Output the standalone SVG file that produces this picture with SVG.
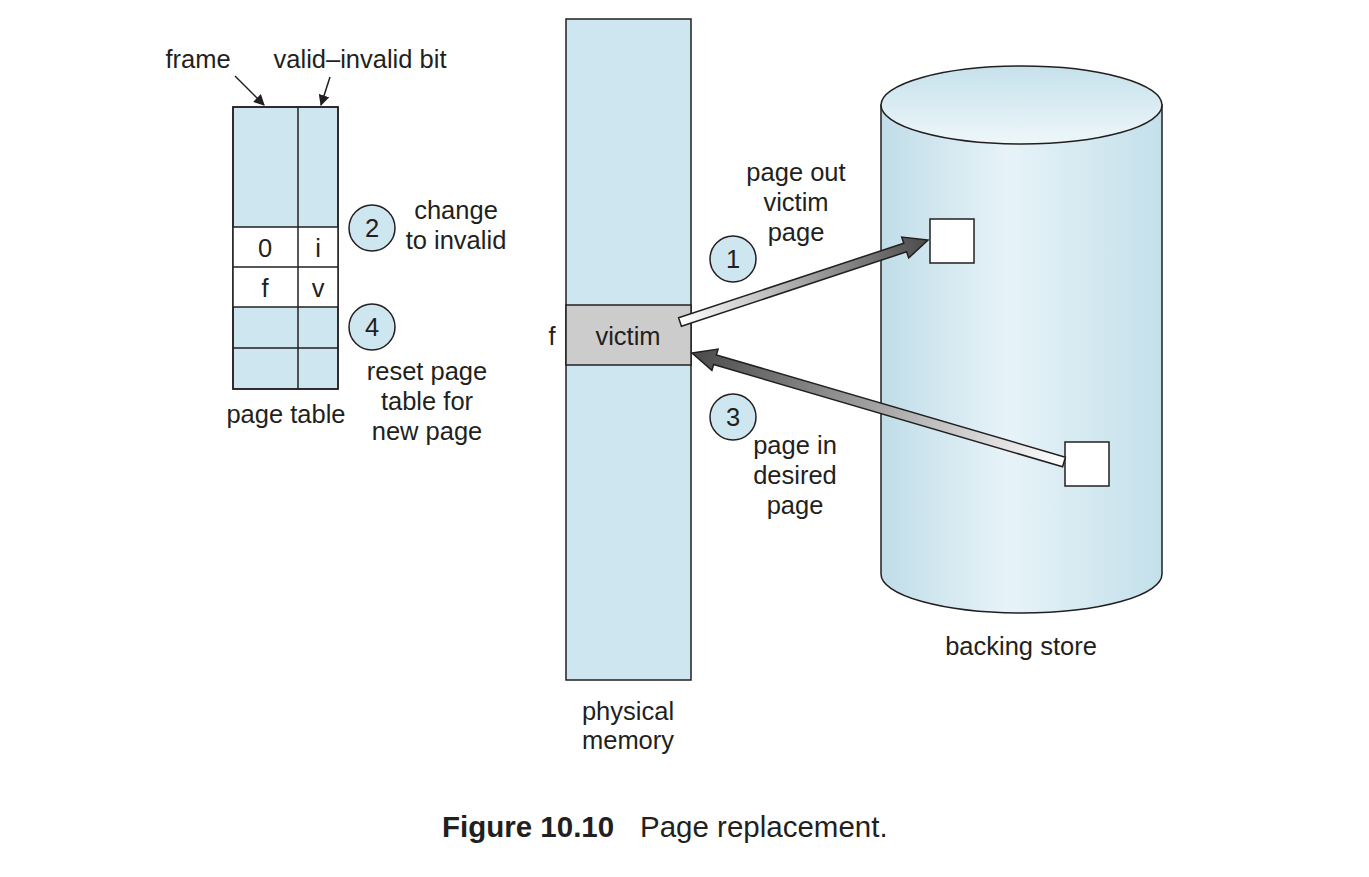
<svg xmlns="http://www.w3.org/2000/svg" width="1369" height="877" viewBox="0 0 1369 877">
<defs>
<style>
.t{font-family:"Liberation Sans",Arial,sans-serif;font-size:25.5px;fill:#231f20}
.c{text-anchor:middle}
.ln{stroke:#231f20;stroke-width:1.5;fill:none}
.blue{fill:#cee6f0;stroke:#231f20;stroke-width:1.5}
.circ{fill:#cee6f0;stroke:#231f20;stroke-width:1.5}
.box{fill:#ffffff;stroke:#231f20;stroke-width:1.5}
.arr{stroke:#231f20;stroke-width:1.5;stroke-linejoin:miter}
.cap{font-family:"Liberation Sans",Arial,sans-serif;font-size:29.5px;fill:#231f20}
</style>
<marker id="ah" viewBox="0 0 10 10" refX="9" refY="5" markerWidth="11" markerHeight="11" markerUnits="userSpaceOnUse" orient="auto">
<path d="M0,0 L10,5 L0,10 Z" fill="#231f20"/>
</marker>
<linearGradient id="cyl" gradientUnits="userSpaceOnUse" x1="881" y1="0" x2="1162" y2="0">
<stop offset="0" stop-color="#c0dde8"/>
<stop offset="0.45" stop-color="#e7f3f8"/>
<stop offset="1" stop-color="#c3e0ea"/>
</linearGradient>
<linearGradient id="cyltop" gradientUnits="userSpaceOnUse" x1="0" y1="66" x2="0" y2="144">
<stop offset="0" stop-color="#c6e1eb"/>
<stop offset="1" stop-color="#eef7fa"/>
</linearGradient>
<linearGradient id="g1" gradientUnits="userSpaceOnUse" x1="680" y1="322" x2="928" y2="240">
<stop offset="0" stop-color="#ffffff"/>
<stop offset="1" stop-color="#4a4a4a"/>
</linearGradient>
<linearGradient id="g3" gradientUnits="userSpaceOnUse" x1="1064" y1="462" x2="692" y2="353">
<stop offset="0" stop-color="#ffffff"/>
<stop offset="1" stop-color="#4a4a4a"/>
</linearGradient>
</defs>
<rect x="0" y="0" width="1369" height="877" fill="#ffffff"/>

<g id="page-table">
<rect class="blue" x="233" y="107" width="105" height="282"/>
<rect x="233" y="227" width="105" height="80" fill="#ffffff"/>
<line class="ln" x1="298" y1="107" x2="298" y2="389"/>
<line class="ln" x1="233" y1="227" x2="338" y2="227"/>
<line class="ln" x1="233" y1="267" x2="338" y2="267"/>
<line class="ln" x1="233" y1="307" x2="338" y2="307"/>
<line class="ln" x1="233" y1="348" x2="338" y2="348"/>
<rect x="233" y="107" width="105" height="282" fill="none" stroke="#231f20" stroke-width="1.5"/>
<text class="t c" x="265" y="257">0</text>
<text class="t c" x="318" y="257">i</text>
<text class="t c" x="265" y="297">f</text>
<text class="t c" x="318" y="297">v</text>
<text class="t c" x="286" y="423">page table</text>
</g>

<g id="label-frame">
<text class="t c" x="198" y="68">frame</text>
</g>
<g id="label-valid">
<text class="t c" x="360" y="68">valid–invalid bit</text>
</g>

<g id="step2">
<circle class="circ" cx="372" cy="228" r="23"/>
<text class="t c" x="372" y="237">2</text>
<text class="t c" x="456" y="219">change</text>
<text class="t c" x="456" y="249">to invalid</text>
</g>

<g id="step4">
<circle class="circ" cx="372" cy="327" r="23"/>
<text class="t c" x="372" y="336">4</text>
<text class="t c" x="427" y="380">reset page</text>
<text class="t c" x="427" y="410">table for</text>
<text class="t c" x="427" y="440">new page</text>
</g>

<g id="physical-memory">
<rect class="blue" x="566" y="19" width="125" height="661"/>
<rect x="566" y="305" width="125" height="60" fill="#cccccc" stroke="#231f20" stroke-width="1.5"/>
<text class="t c" x="628" y="345">victim</text>
<text class="t c" x="552" y="345">f</text>
<text class="t c" x="628" y="720">physical</text>
<text class="t c" x="628" y="749">memory</text>
</g>

<g id="backing-store">
<path d="M881,105 L881,574 A140.5,39 0 0 0 1162,574 L1162,105 Z" fill="url(#cyl)" stroke="#231f20" stroke-width="1.5"/>
<ellipse cx="1021.5" cy="105" rx="140.5" ry="39" fill="url(#cyltop)" stroke="#231f20" stroke-width="1.5"/>
<rect class="box" x="930" y="219" width="44" height="44"/>
<rect class="box" x="1065" y="442" width="44" height="44"/>
<text class="t c" x="1021" y="655">backing store</text>
</g>

<g id="step1">
<circle class="circ" cx="733" cy="259" r="23"/>
<text class="t c" x="733" y="268">1</text>
<text class="t c" x="796" y="181">page out</text>
<text class="t c" x="796" y="211">victim</text>
<text class="t c" x="796" y="241">page</text>
</g>

<g id="step3">
<circle class="circ" cx="733" cy="417" r="23"/>
<text class="t c" x="733" y="426">3</text>
<text class="t c" x="795" y="454">page in</text>
<text class="t c" x="795" y="484">desired</text>
<text class="t c" x="795" y="514">page</text>
</g>

<g id="connectors">
<line class="ln" x1="235" y1="76" x2="264" y2="105" marker-end="url(#ah)"/>
<line class="ln" x1="330" y1="77" x2="321" y2="105" marker-end="url(#ah)"/>
<polygon class="arr" fill="url(#g1)" points="678.6,317.7 903.8,243.2 901.7,237.1 928,240 908.7,258.0 906.6,251.8 681.4,326.3"/>
<polygon class="arr" fill="url(#g3)" points="1065.4,457.2 716.4,354.9 718.1,349.1 692,353 711.9,370.3 713.6,364.5 1062.6,466.8"/>
</g>

<g id="caption">
<text class="cap" x="442" y="837" font-weight="bold">Figure 10.10</text>
<text class="cap" x="640" y="837">Page replacement.</text>
</g>
</svg>
